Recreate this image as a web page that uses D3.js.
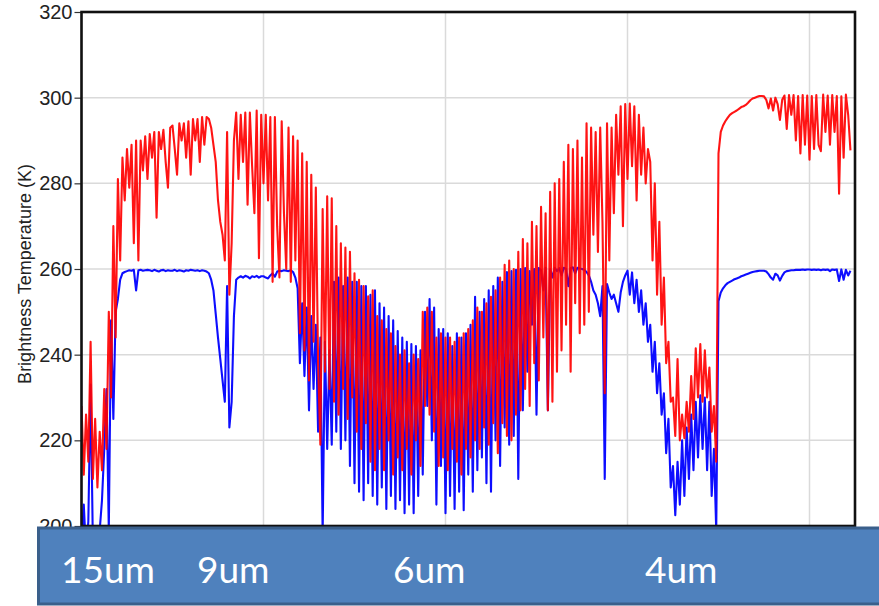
<!DOCTYPE html>
<html>
<head>
<meta charset="utf-8">
<script src="https://cdn.jsdelivr.net/npm/d3@7"></script>
<style>
  html, body { margin: 0; padding: 0; background: #fff; }
  svg { display: block; }
</style>
</head>
<body>
<svg id="chart" width="879" height="606"></svg>
<script>
// Spectrum sampled every 25 channels, starting at channel 0
const channelStep = 25;

// Brightness temperature (K), clear / warm scene
const redBT = [
  228,212,226,215,243,211,225,209,222,213,
  232,218,250,230,270,244,281,262,286,276,
  288,279,289,266,290,262,290,283,291,281,
  291.5,286,292,272,292,288,292.5,285,279,293,
  293.5,288,282,294,290,294,286,294.5,282,295,
  290,295,285,295.5,289,295.5,295,293,289,285,
  276,271,268,262,292,254,266,290,296.5,281,
  296,285,296.5,275,296.5,284,273,297,262.5,296,
  280,296,276,295.5,257,295.5,270,258,294.5,273,
  260,293,257,291,262,290,245,287,241,285,
  234,282,243,279,238,219,274,236,277,232,
  276.5,229,270,226,266,232,265,225,264,230,
  259,222,257.5,218,256,224,253.6,215,255,213,
  249,218,248,213,246,220,245,212,242,216,
  240,213,241,218,238,212,240,220,239,214,
  250,228,251,226,250,222,244,214,245,216,
  244,213,244,218,243,215,244,212,245,218,
  246,216,248,220,251,218,250,223,252,219,
  253.5,224,255,217,258,224,261,221,262,220,
  260,226,264,227,267,232,266,228,271,238,
  270,234,274.5,244,273,227,278,229,280,236,
  281,241,285,247,289,236,288,252,290,245,
  286,247,294,250,293,268,292,264,293,271,
  231,294,262,293,273,296,282,298,270,298.5,
  281,298.6,284,298,276,296,282,293,280,288,
  285,262,280,254,271,247,258,238,243,229,
  230,221,239,220,226,220.5,229,222,235,225,
  241.5,230,242.5,229,241,230,237,222,228,215,
  287,292,293.5,294.5,295.3,296,296.4,296.7,297,297.4,
  297.8,298,298.3,298.8,299.4,299.8,300,300.2,300.4,300.4,
  300.3,299.5,297.5,299.8,297,300,298.5,294.8,299.5,300.5,
  292.7,300.6,296,300.6,290,300.4,287,300.6,289,300.5,
  285.5,300.4,288,300.6,289,287.5,300.7,292,300.5,289,
  300.6,292,300.4,277.6,300.3,286,300.7,296,287.7
];

// Brightness temperature (K), cold scene
const blueBT = [
  196,205,194,201,233,196,198,195,199,206,
  218,232,199,248,225,250,253,257.5,259,259.3,
  259.5,259.7,259.6,259.8,255,259.7,259.8,259.6,259.7,259.8,
  259.7,259.5,259.8,259.6,259.4,259.7,259.8,259.5,259.7,259.6,
  259.6,259.8,259.5,259.7,259.6,259.4,259.7,259.6,259.8,259.7,
  259.6,259.7,259.5,259.7,259.6,259.4,259,257.5,255,249.5,
  244,239,234,229,256,223,229,249,257.5,258,
  258.3,258,258.4,258.2,257.8,258.3,258.1,258.4,258,258.3,
  258.3,258,257.8,258.5,259,258.2,259.4,259.6,259.5,259.7,
  259.6,259.5,259.7,259.3,258,255.5,238,252,235,251,
  227,249,232,247,222,244,198,243,218,241,
  219,257,222,258,218,256,220,258,214,257,
  210,257,208,256,206,256,210,254,207,255,
  205,252,209,251,204,249,207,248,204,245.5,
  206,244,203,243,205,242.5,203,242,207,241,
  212,250,228,253,220,251,205,246,214,246,
  203,245,207,242,204,245,208,244,203.7,245,
  212,247,208,253.5,213,250,216,253,210,255,
  208,256,220,258,214,257,223,259.3,219,259.5,
  221,259.8,211,260,227,260.2,236,259.5,247,260,
  226,260.2,259.8,255,260.3,227,260,258,260.3,259.5,
  260.2,258.5,260.3,260,256,260.2,260.4,259,260.3,260.1,
  260,259.8,259.3,258.5,257,255,254,252,249,256,
  211,256.5,254.5,253,254,252,250,254.5,257,258.5,
  259.6,254,259.2,252,257.5,250,255,247,252,243,
  247,236,243,231,238,226,231,217,225,209,
  214,202.5,215,205,220,207,223,211,226,213,
  229,216,230.5,218,230,213,229,207,218,199,
  252.5,254.5,255.5,256.2,256.7,257,257.3,257.6,257.8,258,
  258.3,258.5,258.7,258.9,259.1,259.3,259.4,259.5,259.6,259.6,
  259.6,259.4,258.8,258,257.5,258.9,258.5,257.3,258.4,259.2,
  259.5,259.6,259.7,259.7,259.8,259.8,259.8,259.9,259.8,259.9,
  259.9,259.8,259.9,259.8,259.9,259.7,259.9,259.8,259.9,259.5,
  259.9,259.8,259.9,257.2,259.9,257.5,259.8,258.5,259.6
];

const yTickValues = [200, 220, 240, 260, 280, 300, 320];
const xTickValues = [0, 2000, 4000, 6000, 8000];
const bandLabels = ["15um", "9um", "6um", "4um"];

// ---- layout ----
const plot = { left: 81.5, right: 855, top: 12, bottom: 526 };
const bandLabelLeft = [61, 197, 393, 645];

const svg = d3.select("#chart");

const x = d3.scaleLinear().domain([0, 8500]).range([plot.left, plot.right]);
const y = d3.scaleLinear().domain([200, 320]).range([plot.bottom, plot.top]);

// grid
const grid = svg.append("g").attr("stroke", "#dadada").attr("stroke-width", 1.5);
grid.selectAll("line.h").data(yTickValues).join("line").attr("class", "h")
  .attr("x1", plot.left).attr("x2", plot.right)
  .attr("y1", d => y(d)).attr("y2", d => y(d));
grid.selectAll("line.v").data(xTickValues).join("line").attr("class", "v")
  .attr("x1", d => x(d)).attr("x2", d => x(d))
  .attr("y1", plot.top).attr("y2", plot.bottom);

// clip for the spectra
svg.append("defs").append("clipPath").attr("id", "plotClip")
  .append("rect")
  .attr("x", plot.left).attr("y", plot.top)
  .attr("width", plot.right - plot.left).attr("height", plot.bottom - plot.top);

const line = d3.line()
  .x((d, i) => x(i * channelStep))
  .y(d => y(d));

const spectra = svg.append("g").attr("clip-path", "url(#plotClip)");
spectra.append("path").datum(blueBT)
  .attr("fill", "none").attr("stroke", "#0000ff")
  .attr("stroke-width", 2.1).attr("stroke-opacity", 0.95)
  .attr("stroke-linejoin", "round")
  .attr("d", line);
spectra.append("path").datum(redBT)
  .attr("fill", "none").attr("stroke", "#ff0000")
  .attr("stroke-width", 2.1).attr("stroke-opacity", 0.92)
  .attr("stroke-linejoin", "round")
  .attr("d", line);

// y axis
const yAxis = svg.append("g")
  .attr("transform", `translate(${plot.left},0)`)
  .call(d3.axisLeft(y).tickValues(yTickValues).tickSize(7).tickPadding(2));
yAxis.select(".domain").remove();
yAxis.selectAll(".tick line").attr("stroke", "#333").attr("stroke-width", 1.2);
yAxis.selectAll(".tick text")
  .attr("font-family", "'Liberation Sans', Arial, sans-serif")
  .attr("font-size", 20).attr("fill", "#222");

// x axis ticks (labels sit under the band strip, so none are drawn)
const xAxis = svg.append("g")
  .attr("transform", `translate(0,${plot.bottom})`)
  .call(d3.axisBottom(x).tickValues(xTickValues).tickSize(7).tickFormat(""));
xAxis.select(".domain").remove();

// frame
svg.append("rect")
  .attr("x", plot.left).attr("y", plot.top)
  .attr("width", plot.right - plot.left).attr("height", plot.bottom - plot.top)
  .attr("fill", "none").attr("stroke", "#111").attr("stroke-width", 2.6);

// y label
svg.append("text")
  .attr("transform", `translate(31,${(plot.top + plot.bottom) / 2 + 5}) rotate(-90)`)
  .attr("text-anchor", "middle")
  .attr("font-family", "'Liberation Sans', Arial, sans-serif")
  .attr("font-size", 18).attr("fill", "#222")
  .text("Brightness Temperature (K)");

// wavelength band strip
svg.append("rect")
  .attr("x", 38.5).attr("y", 528)
  .attr("width", 860).attr("height", 76)
  .attr("fill", "#4f81bd").attr("stroke", "#3a5f8b").attr("stroke-width", 3);

svg.append("g").selectAll("text").data(bandLabels).join("text")
  .attr("x", (d, i) => bandLabelLeft[i])
  .attr("y", 583)
  .attr("font-family", "Lato, 'Open Sans', sans-serif")
  .attr("font-size", 37).attr("fill", "#ffffff")
  .text(d => d);
</script>
</body>
</html>
